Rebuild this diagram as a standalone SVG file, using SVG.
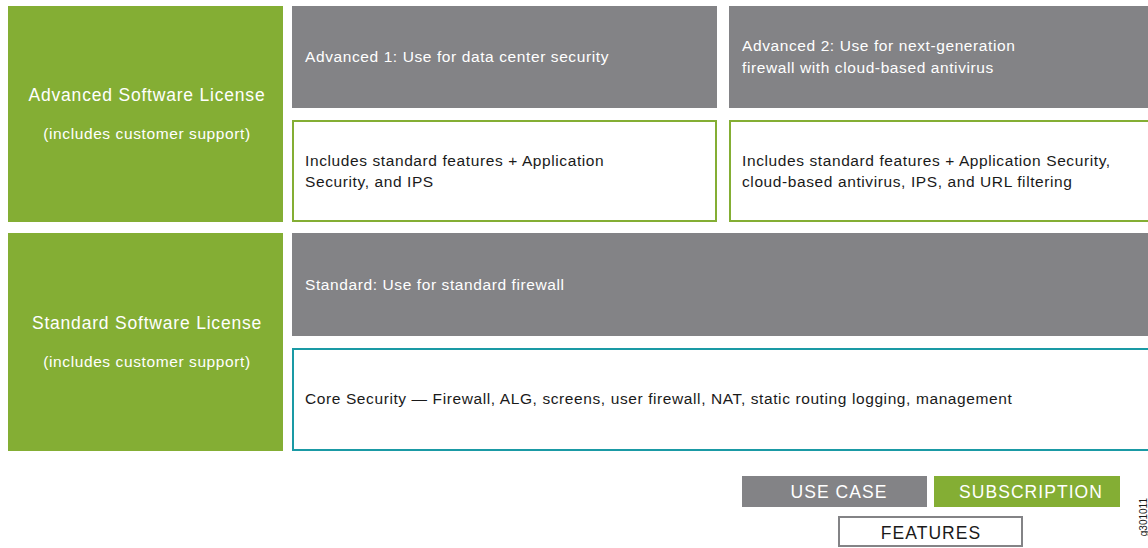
<svg xmlns="http://www.w3.org/2000/svg" width="1148" height="548" viewBox="0 0 1148 548">
<style>
text{font-family:"Liberation Sans",Arial,sans-serif}
.green{fill:#84ae34}
.gray{fill:#838386}
.wt{fill:#ffffff}
.bt{fill:#1a1a1a}
.big{font-size:17.5px;letter-spacing:0.8px}
.leg{font-size:17.5px;letter-spacing:1.05px}
.mid{font-size:15.5px;letter-spacing:0.6px}
.feat{fill:#ffffff;stroke:#84ae34;stroke-width:2}
.core{fill:#ffffff;stroke:#1a9aa5;stroke-width:2}
</style>
<rect width="1148" height="548" fill="#ffffff"/>
<g id="adv-license">
<rect class="green" x="8" y="6" width="275" height="216"/>
<text class="wt big" x="147" y="101" text-anchor="middle">Advanced Software License</text>
<text class="wt mid" x="147" y="139" text-anchor="middle">(includes customer support)</text>
</g>
<g id="std-license">
<rect class="green" x="8" y="233" width="275" height="218"/>
<text class="wt big" x="147" y="329" text-anchor="middle">Standard Software License</text>
<text class="wt mid" x="147" y="367" text-anchor="middle">(includes customer support)</text>
</g>
<g id="adv1-use">
<rect class="gray" x="292" y="6" width="425" height="102"/>
<text class="wt mid" x="305" y="62">Advanced 1: Use for data center security</text>
</g>
<g id="adv2-use">
<rect class="gray" x="729" y="6" width="419" height="102"/>
<text class="wt mid" x="742" y="51">Advanced 2: Use for next-generation</text>
<text class="wt mid" x="742" y="73">firewall with cloud-based antivirus</text>
</g>
<g id="adv1-features">
<rect class="feat" x="293" y="121" width="423" height="100"/>
<text class="bt mid" x="305" y="166">Includes standard features + Application</text>
<text class="bt mid" x="305" y="187">Security, and IPS</text>
</g>
<g id="adv2-features">
<rect class="feat" x="730" y="121" width="420" height="100"/>
<text class="bt mid" x="742" y="166">Includes standard features + Application Security,</text>
<text class="bt mid" x="742" y="187">cloud-based antivirus, IPS, and URL filtering</text>
</g>
<g id="std-use">
<rect class="gray" x="292" y="233" width="856" height="103"/>
<text class="wt mid" x="305" y="290">Standard: Use for standard firewall</text>
</g>
<g id="core-features">
<rect class="core" x="293" y="349" width="857" height="101"/>
<text class="bt mid" x="305" y="404">Core Security — Firewall, ALG, screens, user firewall, NAT, static routing logging, management</text>
</g>
<g id="legend-usecase">
<rect class="gray" x="742" y="476" width="185" height="31"/>
<text class="wt leg" x="839" y="498" text-anchor="middle">USE CASE</text>
</g>
<g id="legend-subscription">
<rect class="green" x="934" y="476" width="186" height="31"/>
<text class="wt leg" x="1031" y="498" text-anchor="middle">SUBSCRIPTION</text>
</g>
<g id="legend-features">
<rect x="839" y="517" width="183" height="29" fill="#ffffff" stroke="#838386" stroke-width="2"/>
<text class="bt leg" x="931" y="539" text-anchor="middle">FEATURES</text>
</g>
<g id="connectors"></g>
<text x="1147" y="498" font-size="10" fill="#1a1a1a" text-anchor="end" transform="rotate(-90 1147 498)">g301011</text>
</svg>
